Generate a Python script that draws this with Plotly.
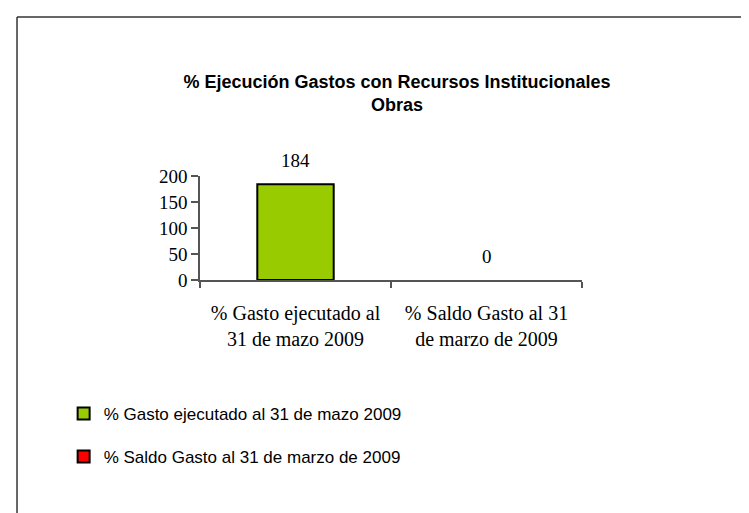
import plotly.graph_objects as go

# Datos
categorias = ['% Gasto ejecutado al<br>31 de mazo 2009', '% Saldo Gasto al 31<br>de marzo de 2009']
nombres = ['% Gasto ejecutado al 31 de mazo 2009', '% Saldo Gasto al 31 de marzo de 2009']
valores = [184, 0]
colores = ['#99CC00', '#FF0000']
ticks_y = [0, 50, 100, 150, 200]

serif = 'Liberation Serif'
sans = 'Liberation Sans'

fig = go.Figure()

# Una traza por categoría (cada una con su propia leyenda)
for i in range(len(categorias)):
    barra = go.Bar(
        x=[categorias[i]],
        y=[valores[i]],
        name=nombres[i],
        showlegend=True,
        marker=dict(color=colores[i], line=dict(color='black', width=2)),
        legend='legend' if i == 0 else 'legend2',
    )
    # Una barra de altura 0 no se ve en el original (solo queda en la leyenda)
    if valores[i] == 0:
        barra.selectedpoints = []
        barra.unselected = dict(marker=dict(opacity=0))
    fig.add_trace(barra)

# Etiquetas de valor encima de cada barra
for i in range(len(categorias)):
    fig.add_annotation(
        x=categorias[i], y=valores[i], text=str(valores[i]),
        showarrow=False, yshift=24, yanchor='middle',
        font=dict(family=serif, size=19, color='black'),
    )

# Marco del gráfico (borde superior e izquierdo)
fig.add_shape(type='line', xref='paper', yref='paper',
              x0=-0.479, y0=-2.3, x1=-0.479, y1=2.529,
              line=dict(color='#333333', width=1.5))
fig.add_shape(type='line', xref='paper', yref='paper',
              x0=-0.479, y0=2.529, x1=1.45, y1=2.529,
              line=dict(color='#333333', width=1.5))

fig.update_layout(
    width=741, height=505,
    margin=dict(l=192, r=167, t=168, b=233),
    paper_bgcolor='white', plot_bgcolor='white',
    showlegend=True,
    barmode='overlay', bargap=0.6,
    title=dict(
        text='% Ejecución Gastos con Recursos Institucionales<br>Obras',
        x=0.525, xanchor='center', xref='container',
        y=0.842, yanchor='top', yref='container',
        font=dict(family=sans, size=18, color='black', weight='bold'),
    ),
    xaxis=dict(
        range=[-0.5, 1.5], showline=True, linecolor='#555555', linewidth=1.5,
        ticks='outside', ticklen=6, tickcolor='#555555', tickwidth=1.5, tickson='boundaries',
        ticklabelstandoff=14,
        tickfont=dict(family=serif, size=20, color='black'),
        showgrid=False, zeroline=False,
    ),
    yaxis=dict(
        range=[0, 200], tickvals=ticks_y, showline=True, linecolor='#555555', linewidth=1.5,
        ticks='outside', ticklen=7, tickcolor='#555555', tickwidth=1.5,
        tickfont=dict(family=serif, size=19, color='black'),
        showgrid=False, zeroline=False,
    ),
    legend=dict(
        x=-0.357, xanchor='left', y=-1.288, yanchor='middle',
        font=dict(family=sans, size=17, color='black'), bgcolor='rgba(0,0,0,0)',
    ),
    legend2=dict(
        x=-0.357, xanchor='left', y=-1.702, yanchor='middle',
        font=dict(family=sans, size=17, color='black'), bgcolor='rgba(0,0,0,0)',
    ),
)

fig.write_html('out.html')
